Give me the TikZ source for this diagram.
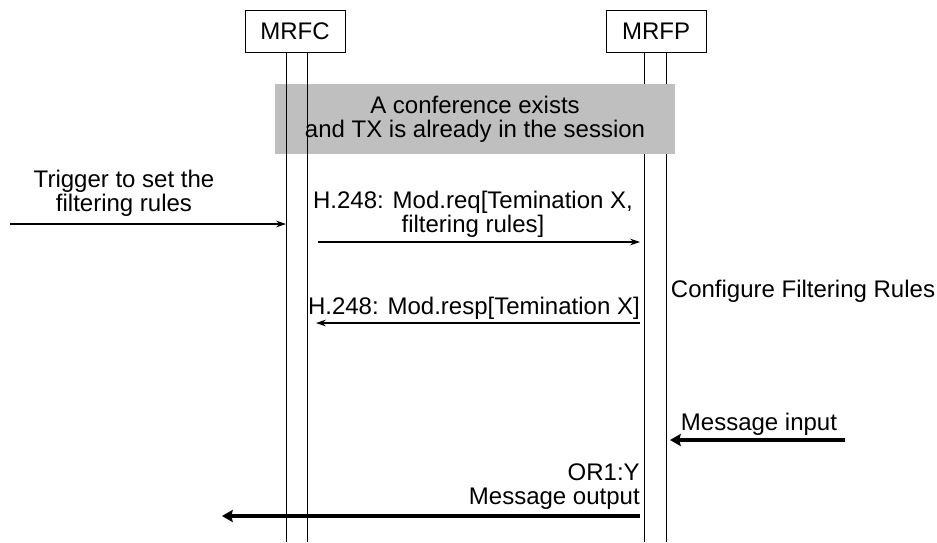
\documentclass[tikz,border=0pt]{standalone}
\usepackage{fontspec}
\setmainfont{Liberation Sans}
\usetikzlibrary{arrows.meta}
\begin{document}
\begin{tikzpicture}[x=0.75pt,y=-0.75pt,line cap=butt,line join=miter,font=\fontsize{18}{18}\selectfont]
		\tikzset{entity/.style={draw,line width=0.6pt,minimum width=75pt,minimum height=32pt,inner sep=0pt},
			life/.style={line width=0.6pt},
			msg/.style={line width=0.8pt,-{Stealth[length=7.5pt,width=5pt]}},
			bigmsg/.style={line width=3pt,-{Stealth[length=8pt,width=9pt,inset=1pt]}},
			lbl/.style={align=center,inner sep=0pt}
		}
		\useasboundingbox (0,0) rectangle (937,542);
		\node[entity] (mrfc) at (295,31.5) {MRFC};
		\node[entity] (mrfp) at (656,31.5) {MRFP};
		\coordinate (fc1) at (286,53); \coordinate (fc2) at (307,53);
		\coordinate (fp1) at (644,53); \coordinate (fp2) at (666,53);
		\draw[life] (fp1)--++(0,489) (fp2)--++(0,489);
		\node[fill=gray!50,minimum width=300pt,minimum height=52.5pt,lbl] (ctx) at (475,119) {A conference exists\\and TX is already in the session};
		\draw[life] (fc1)--++(0,489) (fc2)--++(0,489);
		% messages
		\coordinate (trig) at (10,224);
		\draw[msg] (trig) -- (trig -| fc1);
		\node[lbl] (trigtxt) at (124,193) {Trigger to set the\\filtering rules};
		\coordinate (req) at (318,242);
		\draw[msg] (req) -- ([xshift=-3pt]req -| fp1);
		\node[lbl] (reqtxt) at (473,214) {H.248: Mod.req[Temination X,\\filtering rules]};
		\coordinate (resp) at (316,323);
		\draw[msg] ([xshift=-3pt]resp -| fp1) -- (resp);
		\node[lbl,anchor=east] (resptxt) at (640,308) {H.248: Mod.resp[Temination X]};
		\node[lbl] (conf) at (803,291) {Configure Filtering Rules};
		\coordinate (in) at (845,440);
		\draw[bigmsg] (in) -- ([xshift=3pt]in -| fp2);
		\node[lbl] (intxt) at (759,424) {Message input};
		\coordinate (out) at (222,516);
		\draw[bigmsg] ([xshift=-3pt]out -| fp1) -- (out);
		\node[lbl,align=right,anchor=east] (outtxt) at (640,487) {OR1:Y\ \\Message output};
	\end{tikzpicture}
\end{document}
